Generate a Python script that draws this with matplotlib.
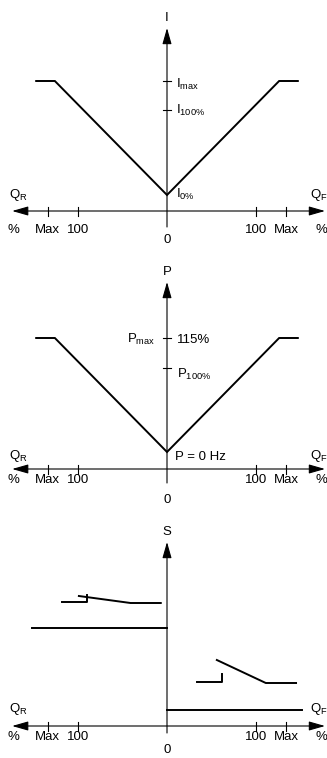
import matplotlib
matplotlib.use("Agg")
from matplotlib import pyplot as plt

plt.rcParams['font.family'] = ['Liberation Sans', 'DejaVu Sans']
plt.rcParams['mathtext.fontset'] = 'custom'
plt.rcParams['mathtext.rm'] = 'Liberation Sans'
plt.rcParams['mathtext.default'] = 'regular'

# x in % of flow (reverse negative, forward positive)
x_ticks = [-134, -100, 100, 134]
x_tick_labels = ["Max", "100", "100", "Max"]

# current / power curves (schematic levels)
curve_x = [-147, -126, 0, 126, 147]
current_y = [130, 130, 16, 130, 130]
power_y = [131, 131, 17, 131, 131]
current_ticks = [101, 130]
power_ticks = [101, 131]

# slip curves
rev_base_x, rev_base_y = [-152, 0], [98, 98]
rev_step_x, rev_step_y = [-118, -90, -90], [124, 124, 131]
rev_slope_x, rev_slope_y = [-99, -41, -7], [130, 123, 123]
fwd_base_x, fwd_base_y = [0, 152], [16, 16]
fwd_step_x, fwd_step_y = [34, 62, 62], [44, 44, 52]
fwd_slope_x, fwd_slope_y = [56, 111, 145], [66, 43, 43]

PX = 0.89  # px per %
XLIM = (-167 / PX, 160 / PX)
FS = 9.5
LW = 1.4


def axis_frame(ax, ylim, top, below, lab_y, zero_y, q_y, ylabel):
    ax.set_xlim(*XLIM)
    ax.set_ylim(*ylim)
    ax.axis('off')
    arrow = dict(arrowstyle='<|-|>,head_length=0.7,head_width=0.2', mutation_scale=14,
                 lw=0.8, color='k', shrinkA=0, shrinkB=0)
    ax.annotate('', xy=(-174, 0), xytext=(177.5, 0), arrowprops=arrow)
    varrow = dict(arrowstyle='-|>,head_length=0.7,head_width=0.2', mutation_scale=14,
                  lw=0.8, color='k', shrinkA=0, shrinkB=0)
    ax.annotate('', xy=(0, top), xytext=(0, -below), arrowprops=varrow)
    for xt, lab in zip(x_ticks, x_tick_labels):
        ax.plot([xt, xt], [-4.5, 4.5], color='k', lw=0.8)
        ax.text(xt, lab_y, lab, ha='center', va='baseline', fontsize=FS)
    ax.text(-172, lab_y, "%", ha='center', va='baseline', fontsize=FS)
    ax.text(174, lab_y, "%", ha='center', va='baseline', fontsize=FS)
    ax.text(0, zero_y, "0", ha='center', va='baseline', fontsize=FS, clip_on=False)
    ax.text(-177, q_y, "$Q_R$", ha='left', va='baseline', fontsize=FS)
    ax.text(161, q_y, "$Q_F$", ha='left', va='baseline', fontsize=FS)
    ax.text(0, top + 10, ylabel, ha='center', va='center', fontsize=FS)


fig = plt.figure(figsize=(3.27, 7.58), dpi=100)
H = 758
ax1 = fig.add_axes([0, (H - 250) / H, 1, 250 / H])
ax2 = fig.add_axes([0, (H - 500) / H, 1, 250 / H])
ax3 = fig.add_axes([0, 0, 1, 258 / H])

# current
axis_frame(ax1, (-39, 211), 183, 16, -22, -32, 13, "I")
ax1.plot(curve_x, current_y, color='k', lw=LW, solid_joinstyle='miter')
for yt in current_ticks:
    ax1.plot([-5, 5], [yt, yt], color='k', lw=0.8)
ax1.text(10, 123, "$I_{max}$", ha='left', va='baseline', fontsize=FS)
ax1.text(10, 97, "$I_{100\\%}$", ha='left', va='baseline', fontsize=FS)
ax1.text(10, 13, "$I_{0\\%}$", ha='left', va='baseline', fontsize=FS)

# power
axis_frame(ax2, (-31, 219), 187, 14, -14, -34, 10, "P")
ax2.plot(curve_x, power_y, color='k', lw=LW, solid_joinstyle='miter')
for yt in power_ticks:
    ax2.plot([-5, 5], [yt, yt], color='k', lw=0.8)
ax2.text(-13.5, 126, "$P_{max}$", ha='right', va='baseline', fontsize=FS)
ax2.text(11, 126, "115%", ha='left', va='baseline', fontsize=FS)
ax2.text(11, 91, "$P_{100\\%}$", ha='left', va='baseline', fontsize=FS)
ax2.text(9, 9, "P = 0 Hz", ha='left', va='baseline', fontsize=FS)

# slip
axis_frame(ax3, (-32, 226), 184, 7, -14, -27, 14, "S")
for xs, ys in [(rev_base_x, rev_base_y), (rev_step_x, rev_step_y),
               (rev_slope_x, rev_slope_y), (fwd_base_x, fwd_base_y),
               (fwd_step_x, fwd_step_y), (fwd_slope_x, fwd_slope_y)]:
    ax3.plot(xs, ys, color='k', lw=LW)

fig.savefig("out.png", dpi=100)
